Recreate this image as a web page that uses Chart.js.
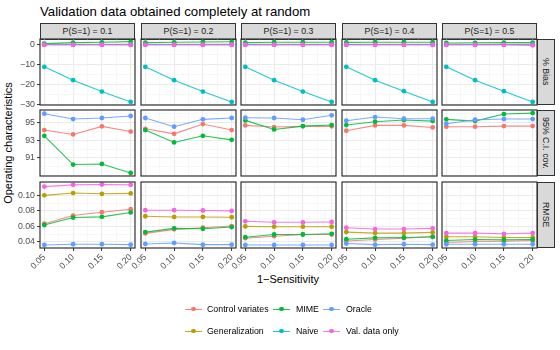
<!DOCTYPE html>
<html>
<head>
<meta charset="utf-8">
<script src="https://cdn.jsdelivr.net/npm/chart.js@4.4.0/dist/chart.umd.min.js"></script>
<style>
    body {
        margin: 0;
        width: 560px;
        height: 350px;
        position: relative;
        overflow: hidden;
        background: #fff;
        font-family: "Liberation Sans", Arial, sans-serif;
    }
    canvas { position: absolute; }
    .txt { position: absolute; white-space: nowrap; line-height: 1; }
    .strip {
        position: absolute;
        box-sizing: border-box;
        background: #D9D9D9;
        border: 1px solid #333;
        color: #1A1A1A;
        font-size: 8.8px;
        display: flex;
        align-items: center;
        justify-content: center;
    }
    .strip.right span { writing-mode: vertical-rl; }
    .key { position: absolute; width: 17px; height: 10px; }
    .key .ln { position: absolute; left: 0; right: 0; top: 4.5px; height: 1.1px; opacity: 0.85; }
    .key .pt { position: absolute; left: 6px; top: 2.7px; width: 4.8px; height: 4.8px; border-radius: 50%; }
</style>
</head>
<body>
<div class="txt" style="left:40px;top:5px;font-size:13.2px;color:#000">Validation data obtained completely at random</div>
<div class="txt" style="left:288px;top:274px;font-size:11px;color:#000;transform:translateX(-50%)">1−Sensitivity</div>
<div class="txt" style="left:8px;top:143px;font-size:11px;color:#000;transform:translate(-50%,-50%) rotate(-90deg)">Operating characteristics</div>
<div id="panels"></div>
<div id="leyenda"></div>

<script>
// ==========================================
// DATOS
// ==========================================

const xValues = [0.05, 0.10, 0.15, 0.20];
const xTickLabels = ["0.05", "0.10", "0.15", "0.20"];
const xMinor = [0.075, 0.125, 0.175];

const probLabels = ["P(S=1) = 0.1", "P(S=1) = 0.2", "P(S=1) = 0.3", "P(S=1) = 0.4", "P(S=1) = 0.5"];
const measureLabels = ["% Bias", "95% C.I. cov.", "RMSE"];

const methods = ["Control variates", "Generalization", "MIME", "Naive", "Oracle", "Val. data only"];
const methodColors = ["#F8766D", "#B79F00", "#00BA38", "#00BFC4", "#619CFF", "#F564E3"];

// % Bias (una fila por columna P(S=1))
const biasControl = [[0.1, 0.1, 0.1, 0.1], [0.1, 0.1, 0.1, 0.1], [0.1, 0.1, 0.1, 0.1], [0.1, 0.1, 0.1, 0.1], [0.1, 0.1, 0.1, 0.1]];
const biasGeneral = [[0, 0, 0, 0], [0, 0, 0, 0], [0, 0, 0, 0], [0, 0, 0, 0], [0, 0, 0, 0]];
const biasMIME = [[0.5, 1.0, 1.15, 1.5], [1.0, 1.15, 1.3, 1.4], [1.0, 1.2, 1.2, 1.2], [1.1, 1.2, 1.2, 1.2], [0.8, 0.9, 1.0, 1.0]];
const biasNaive = [[-11.2, -17.9, -23.6, -28.8], [-11.2, -17.9, -23.6, -28.8], [-11.2, -17.9, -23.6, -28.8], [-11.2, -17.9, -23.4, -28.8], [-11.2, -17.9, -23.4, -28.8]];
const biasOracle = [[0, 0, 0, 0], [0, 0, 0, 0], [0, 0, 0, 0], [0, 0, 0, 0], [0, 0, 0, 0]];
const biasValOnly = [[-0.2, -0.2, -0.2, -0.2], [-0.2, -0.2, -0.2, -0.2], [-0.2, -0.2, -0.2, -0.2], [-0.2, -0.2, -0.2, -0.2], [-0.2, -0.2, -0.2, -0.4]];

// 95% C.I. cov.
const covControl = [[94.17, 93.67, 94.59, 94.0], [94.31, 93.74, 94.85, 94.17], [94.7, 94.51, 94.59, 94.59], [94.09, 94.7, 94.7, 94.47], [94.55, 94.55, 94.62, 94.62]];
const covMIME = [[93.52, 90.25, 90.32, 89.29], [94.17, 92.76, 93.52, 93.06], [95.27, 94.24, 94.62, 94.74], [94.74, 95.12, 95.31, 95.19], [95.39, 95.19, 95.99, 96.1]];
const covOracle = [[96.03, 95.42, 95.54, 95.77], [95.54, 94.55, 95.39, 95.54], [95.57, 95.54, 95.34, 95.85], [95.23, 95.65, 95.46, 95.46], [94.89, 95.34, 95.42, 95.42]];

// RMSE
const rmseControl = [[0.0635, 0.074, 0.0783, 0.0822], [0.051, 0.0562, 0.0583, 0.0605], [0.0448, 0.0474, 0.0496, 0.0496], [0.0413, 0.0431, 0.0448, 0.0466], [0.0392, 0.0405, 0.0409, 0.0418]];
const rmseGeneral = [[0.100, 0.103, 0.102, 0.1025], [0.0731, 0.0722, 0.0722, 0.0718], [0.060, 0.0596, 0.0596, 0.0596], [0.0527, 0.0514, 0.0514, 0.0523], [0.0466, 0.0466, 0.0457, 0.0457]];
const rmseMIME = [[0.0618, 0.0714, 0.0723, 0.078], [0.0527, 0.0575, 0.057, 0.0592], [0.0461, 0.0496, 0.0496, 0.0505], [0.0435, 0.0453, 0.0457, 0.0466], [0.0418, 0.0431, 0.0427, 0.0431]];
const rmseOracle = [[0.0361, 0.037, 0.037, 0.0365], [0.0374, 0.0387, 0.0365, 0.0365], [0.0361, 0.0361, 0.0361, 0.0361], [0.0379, 0.0365, 0.037, 0.0365], [0.037, 0.037, 0.037, 0.037]];
const rmseValOnly = [[0.1113, 0.1135, 0.114, 0.1135], [0.0809, 0.0809, 0.0805, 0.080], [0.0666, 0.0653, 0.0653, 0.0657], [0.0583, 0.0566, 0.0566, 0.0575], [0.0514, 0.0514, 0.0505, 0.0514]];

// series por fila (mismo orden que methods; null = no aparece)
const rowSeries = [
    [biasControl, biasGeneral, biasMIME, biasNaive, biasOracle, biasValOnly],
    [covControl, null, covMIME, null, covOracle, null],
    [rmseControl, rmseGeneral, rmseMIME, null, rmseOracle, rmseValOnly]
];

// ejes y
const yMajor = [[-30, -20, -10, 0], [91, 93, 95], [0.04, 0.06, 0.08, 0.10]];
const yTickLabels = [["−30", "−20", "−10", "0"], ["91", "93", "95"], ["0.04", "0.06", "0.08", "0.10"]];
const yMinor = [[-25, -15, -5], [89, 90, 92, 94, 96], [0.05, 0.07, 0.09, 0.11]];
const yLimits = [[-30.35, 2.8], [88.95, 96.45], [0.0322, 0.1172]];
const xLimits = [0.0425, 0.2075];

// ==========================================
// LAYOUT
// ==========================================

const colLeft = [40, 141, 241, 342, 442];
const rowTop = [39, 110, 182];
const panelW = 95;
const panelH = 66;
const padL = 40, padT = 4, padR = 4, padB = 40;

const tickFont = { family: "'Liberation Sans', Arial, sans-serif", size: 8.8 };

const bordePanel = {
    id: "bordePanel",
    afterDatasetsDraw(chart) {
        const a = chart.chartArea;
        const c = chart.ctx;
        c.save();
        c.strokeStyle = "#333333";
        c.lineWidth = 1.2;
        c.strokeRect(a.left, a.top, a.right - a.left, a.bottom - a.top);
        c.restore();
    }
};

function esMayor(lista, v) {
    return lista.some(m => Math.abs(m - v) < 1e-9);
}

function crearPanel(fila, col) {
    const cont = document.getElementById("panels");
    const canvas = document.createElement("canvas");
    canvas.width = panelW + padL + padR;
    canvas.height = panelH + padT + padB;
    canvas.style.left = (colLeft[col] - padL) + "px";
    canvas.style.top = (rowTop[fila] - padT) + "px";
    cont.appendChild(canvas);

    const conTicksY = col === 0;
    const conTicksX = fila === 2;

    const datasets = [];
    rowSeries[fila].forEach((serie, i) => {
        if (!serie) return;
        datasets.push({
            label: methods[i],
            data: xValues.map((x, k) => ({ x: x, y: serie[col][k] })),
            borderColor: methodColors[i] + "D9",
            backgroundColor: methodColors[i],
            pointBackgroundColor: methodColors[i],
            borderWidth: 1.1,
            pointRadius: 2.4,
            pointBorderWidth: 0,
            tension: 0,
            clip: false,
            order: methods.length - i
        });
    });

    const xTicks = xValues.concat(xMinor);
    const yTicks = yMajor[fila].concat(yMinor[fila]);

    return new Chart(canvas, {
        type: "line",
        data: { datasets },
        plugins: [bordePanel],
        options: {
            responsive: false,
            animation: false,
            layout: { padding: { top: padT, right: padR, left: 0, bottom: 0 } },
            plugins: { legend: { display: false }, tooltip: { enabled: false } },
            scales: {
                x: {
                    type: "linear",
                    min: xLimits[0],
                    max: xLimits[1],
                    afterBuildTicks: s => { s.ticks = xTicks.map(v => ({ value: v })); },
                    afterFit: s => {
                        s.height = padB;
                        s.paddingLeft = 0; s.paddingRight = 0;
                    },
                    border: { display: false },
                    grid: {
                        color: ctx => esMayor(xValues, ctx.tick.value) ? "#EBEBEB" : "#F4F4F4",
                        lineWidth: ctx => esMayor(xValues, ctx.tick.value) ? 1.1 : 0.7,
                        drawTicks: conTicksX,
                        tickLength: 3,
                        tickColor: ctx => esMayor(xValues, ctx.tick.value) ? "#333333" : "rgba(0,0,0,0)",
                        tickWidth: 1
                    },
                    ticks: {
                        display: conTicksX,
                        autoSkip: false,
                        minRotation: 45,
                        maxRotation: 45,
                        padding: 1,
                        color: "#4D4D4D",
                        font: tickFont,
                        callback: v => {
                            const k = xValues.findIndex(m => Math.abs(m - v) < 1e-9);
                            return k >= 0 ? xTickLabels[k] : "";
                        }
                    }
                },
                y: {
                    type: "linear",
                    min: yLimits[fila][0],
                    max: yLimits[fila][1],
                    afterBuildTicks: s => { s.ticks = yTicks.map(v => ({ value: v })); },
                    afterFit: s => {
                        s.width = padL;
                        s.paddingTop = 0; s.paddingBottom = 0;
                    },
                    border: { display: false },
                    grid: {
                        color: ctx => esMayor(yMajor[fila], ctx.tick.value) ? "#EBEBEB" : "#F4F4F4",
                        lineWidth: ctx => esMayor(yMajor[fila], ctx.tick.value) ? 1.1 : 0.7,
                        drawTicks: conTicksY,
                        tickLength: 3,
                        tickColor: ctx => esMayor(yMajor[fila], ctx.tick.value) ? "#333333" : "rgba(0,0,0,0)",
                        tickWidth: 1
                    },
                    ticks: {
                        display: conTicksY,
                        autoSkip: false,
                        padding: 2,
                        color: "#4D4D4D",
                        font: tickFont,
                        callback: v => {
                            const k = yMajor[fila].findIndex(m => Math.abs(m - v) < 1e-9);
                            return k >= 0 ? yTickLabels[fila][k] : "";
                        }
                    }
                }
            }
        }
    });
}

function crearTiras() {
    const cont = document.getElementById("panels");
    probLabels.forEach((txt, col) => {
        const d = document.createElement("div");
        d.className = "strip";
        d.style.left = colLeft[col] + "px";
        d.style.top = "23px";
        d.style.width = panelW + "px";
        d.style.height = "16.5px";
        d.textContent = txt;
        cont.appendChild(d);
    });
    measureLabels.forEach((txt, fila) => {
        const d = document.createElement("div");
        d.className = "strip right";
        d.style.left = (colLeft[4] + panelW - 0.5) + "px";
        d.style.top = rowTop[fila] + "px";
        d.style.width = "18px";
        d.style.height = panelH + "px";
        d.innerHTML = "<span>" + txt + "</span>";
        cont.appendChild(d);
    });
}

function crearLeyenda() {
    const cont = document.getElementById("leyenda");
    const keyX = [185, 273, 323];
    const textX = [207, 296, 346];
    const rowY = [309, 331];
    // ggplot llena la leyenda por columnas (2 filas)
    methods.forEach((nombre, i) => {
        const c = Math.floor(i / 2);
        const r = i % 2;
        const k = document.createElement("div");
        k.className = "key";
        k.style.left = keyX[c] + "px";
        k.style.top = (rowY[r] - 5) + "px";
        k.innerHTML = `<div class="ln" style="background:${methodColors[i]}"></div><div class="pt" style="background:${methodColors[i]}"></div>`;
        cont.appendChild(k);

        const t = document.createElement("div");
        t.className = "txt";
        t.style.left = textX[c] + "px";
        t.style.top = (rowY[r] - 4.5) + "px";
        t.style.fontSize = "8.8px";
        t.style.color = "#000";
        t.textContent = nombre;
        cont.appendChild(t);
    });
}

crearTiras();
for (let f = 0; f < 3; f++) {
    for (let c = 0; c < 5; c++) {
        crearPanel(f, c);
    }
}
crearLeyenda();
</script>
</body>
</html>
